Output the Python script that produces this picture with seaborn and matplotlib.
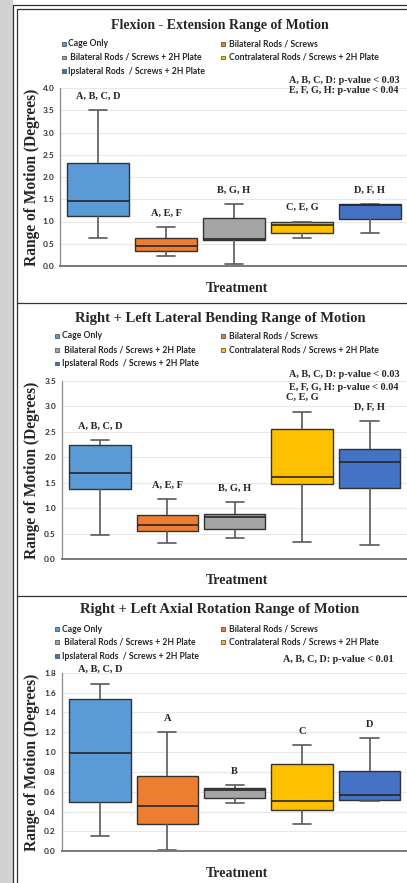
import matplotlib
matplotlib.use('Agg')
import matplotlib.pyplot as plt
from matplotlib.patches import Rectangle
from matplotlib.lines import Line2D
import pandas as pd
import seaborn as sns

treatments = ['Cage Only', 'Bilateral Rods / Screws', ' Bilateral Rods / Screws + 2H Plate',
              'Contralateral Rods / Screws + 2H Plate', 'Ipslateral Rods  / Screws + 2H Plate']
colors = ['#5B9BD5', '#ED7D31', '#A5A5A5', '#FFC000', '#4472C4']

# five-number summaries: min, q1, median, q3, max
flex_min = [0.64, 0.22, 0.04, 0.64, 0.75]
flex_q1 = [1.12, 0.34, 0.59, 0.75, 1.06]
flex_med = [1.46, 0.44, 0.60, 0.92, 1.36]
flex_q3 = [2.32, 0.62, 1.07, 1.00, 1.39]
flex_max = [3.50, 0.87, 1.39, 1.00, 1.39]
flex_groups = ['A, B, C, D', 'A, E, F', 'B, G, H', 'C, E, G', 'D, F, H']

lat_min = [0.47, 0.325, 0.42, 0.33, 0.28]
lat_q1 = [1.375, 0.565, 0.60, 1.47, 1.40]
lat_med = [1.69, 0.67, 0.84, 1.61, 1.91]
lat_q3 = [2.24, 0.87, 0.88, 2.55, 2.17]
lat_max = [2.34, 1.18, 1.13, 2.90, 2.72]
lat_groups = ['A, B, C, D', 'A, E, F', 'B, G, H', 'C, E, G', 'D, F, H']

axial_min = [0.15, 0.01, 0.49, 0.28, 0.51]
axial_q1 = [0.50, 0.28, 0.54, 0.42, 0.514]
axial_med = [0.99, 0.455, 0.615, 0.51, 0.564]
axial_q3 = [1.53, 0.76, 0.64, 0.88, 0.81]
axial_max = [1.69, 1.20, 0.665, 1.07, 1.14]
axial_groups = ['A, B, C, D', 'A', 'B', 'C', 'D']

flex_p = ['A, B, C, D: p-value < 0.03', 'E, F, G, H: p-value < 0.04']
lat_p = ['A, B, C, D: p-value < 0.03', 'E, F, G, H: p-value < 0.04']
axial_p = ['A, B, C, D: p-value < 0.01']


def long_frame(mins, q1s, meds, q3s, maxs):
    rows = []
    for t, vals in zip(treatments, zip(mins, q1s, meds, q3s, maxs)):
        for v in vals:
            rows.append((t, v))
    return pd.DataFrame(rows, columns=['Treatment', 'ROM'])


sns.set_style('white')
plt.rcParams['font.family'] = ['Liberation Serif', 'DejaVu Serif']

W, H = 407, 883
fig = plt.figure(figsize=(W / 100, H / 100), dpi=100)


def fx(x):
    return x / W


def fy(y):
    return 1 - y / H


# screenshot frame
fig.add_artist(Rectangle((0, 0), fx(11.5), 1, transform=fig.transFigure,
                         color='#d2d2d2', zorder=0))
frame = dict(color='#333333', lw=0.9, transform=fig.transFigure)
fig.add_artist(Line2D([fx(13.3)] * 2, [fy(5), 0], **frame))
fig.add_artist(Line2D([fx(17.3)] * 2, [fy(9), 0], **frame))
fig.add_artist(Line2D([fx(13.3), 1], [fy(5)] * 2, **frame))
fig.add_artist(Line2D([fx(17.3), 1], [fy(9)] * 2, **frame))
fig.add_artist(Line2D([fx(17.3), 1], [fy(303.3)] * 2, **frame))
fig.add_artist(Line2D([fx(17.3), 1], [fy(595.7)] * 2, **frame))

panels = [
    dict(title='Flexion - Extension Range of Motion', title_size=10,
         df=long_frame(flex_min, flex_q1, flex_med, flex_q3, flex_max),
         groups=flex_groups, pvals=flex_p, ymax=4.0, step=0.5,
         box=(60, 88, 408, 266), xpad=0.56, title_y=25, xlab_y=288,
         leg_y=[43.7, 57.3, 71], leg_x=(62, 67.5), p_y=[80.3, 90.3], p_x=289),
    dict(title='Right + Left Lateral Bending Range of Motion', title_size=10.5,
         df=long_frame(lat_min, lat_q1, lat_med, lat_q3, lat_max),
         groups=lat_groups, pvals=lat_p, ymax=3.5, step=0.5,
         box=(61.5, 381, 408, 559.3), xpad=0.57, title_y=318.3, xlab_y=581,
         leg_y=[336, 350, 363.5], leg_x=(55.5, 62.5), p_y=[375, 387.5], p_x=289),
    dict(title='Right + Left Axial Rotation Range of Motion', title_size=10.5,
         df=long_frame(axial_min, axial_q1, axial_med, axial_q3, axial_max),
         groups=axial_groups, pvals=axial_p, ymax=1.8, step=0.2,
         box=(61.5, 672.7, 408, 851.3), xpad=0.57, title_y=610, xlab_y=873.3,
         leg_y=[629, 642.3, 656.3], leg_x=(55.5, 62.5), p_y=[660], p_x=283),
]

# legend layout: column 1 holds entries 0, 2, 4; column 2 holds 1, 3
leg_slots = [(0, 0), (1, 0), (0, 1), (1, 1), (0, 2)]

for p in panels:
    l, t, r, b = p['box']
    ax = fig.add_axes([fx(l), fy(b), (r - l) / W, (b - t) / H])
    sns.boxplot(data=p['df'], x='Treatment', y='ROM', hue='Treatment',
                order=treatments, hue_order=treatments, palette=colors,
                saturation=1, width=0.91, whis=(0, 100), legend=False,
                linecolor='#333333', linewidth=1.0, capwidths=0.27,
                whiskerprops=dict(color='#595959', linewidth=1.2),
                capprops=dict(color='#595959', linewidth=1.2),
                medianprops=dict(color='#262626', linewidth=1.2),
                ax=ax)
    ax.set_xlim(-p['xpad'], 4 + p['xpad'])
    ax.set_ylim(0, p['ymax'])
    n = int(round(p['ymax'] / p['step']))
    ticks = [i * p['step'] for i in range(n + 1)]
    ax.set_yticks(ticks)
    ax.set_yticklabels([f'{v:.1f}' for v in ticks], fontfamily='Lato',
                       fontweight='bold', fontsize=6, color='#333333')
    ax.set_xticks([])
    ax.set_xlabel('')
    ax.set_ylabel('')
    ax.tick_params(axis='y', length=0, pad=4)
    ax.grid(axis='y', color='#e8e8e8', linewidth=0.8)
    ax.set_axisbelow(True)
    for s in ['top', 'right']:
        ax.spines[s].set_visible(False)
    ax.spines['left'].set_color('#8c8c8c')
    ax.spines['left'].set_linewidth(0.9)
    ax.spines['bottom'].set_color('#7a7a7a')
    ax.spines['bottom'].set_linewidth(1.4)
    ax.patch.set_alpha(0)

    # significance groups above each whisker
    tops = p['df'].groupby('Treatment', sort=False)['ROM'].max()
    for i, (tr, lab) in enumerate(zip(treatments, p['groups'])):
        ax.annotate(lab, xy=(i, tops[tr]), xytext=(0, 10), textcoords='offset points',
                    ha='center', va='center', fontsize=7.5, fontweight='bold')

    fig.text(fx(220), fy(p['title_y']), p['title'], ha='center', va='center',
             fontsize=p['title_size'], fontweight='bold')
    fig.text(fx(237), fy(p['xlab_y']), 'Treatment', ha='center', va='center',
             fontsize=10, fontweight='bold')
    fig.text(fx(32), fy((t + b) / 2), 'Range of Motion (Degrees)', rotation=90,
             ha='center', va='center', fontsize=11.2, fontweight='bold')

    for txt, yy in zip(p['pvals'], p['p_y']):
        fig.text(fx(p['p_x']), fy(yy), txt, ha='left', va='center',
                 fontsize=7.3, fontweight='bold')

    for (col, row), name, c in zip(leg_slots, treatments, colors):
        sq_x = p['leg_x'][0] if col == 0 else 221
        tx_x = p['leg_x'][1] if col == 0 else 229
        yy = p['leg_y'][row]
        fig.add_artist(Rectangle((fx(sq_x), fy(yy + 1.8)), 3.6 / W, 3.6 / H,
                                 transform=fig.transFigure, facecolor=c,
                                 edgecolor='#404040', linewidth=0.5))
        fig.text(fx(tx_x), fy(yy), name, ha='left', va='center', fontsize=6.2,
                 fontfamily='Lato', fontweight='bold', color='#262626')

fig.savefig('out.png', dpi=100)
